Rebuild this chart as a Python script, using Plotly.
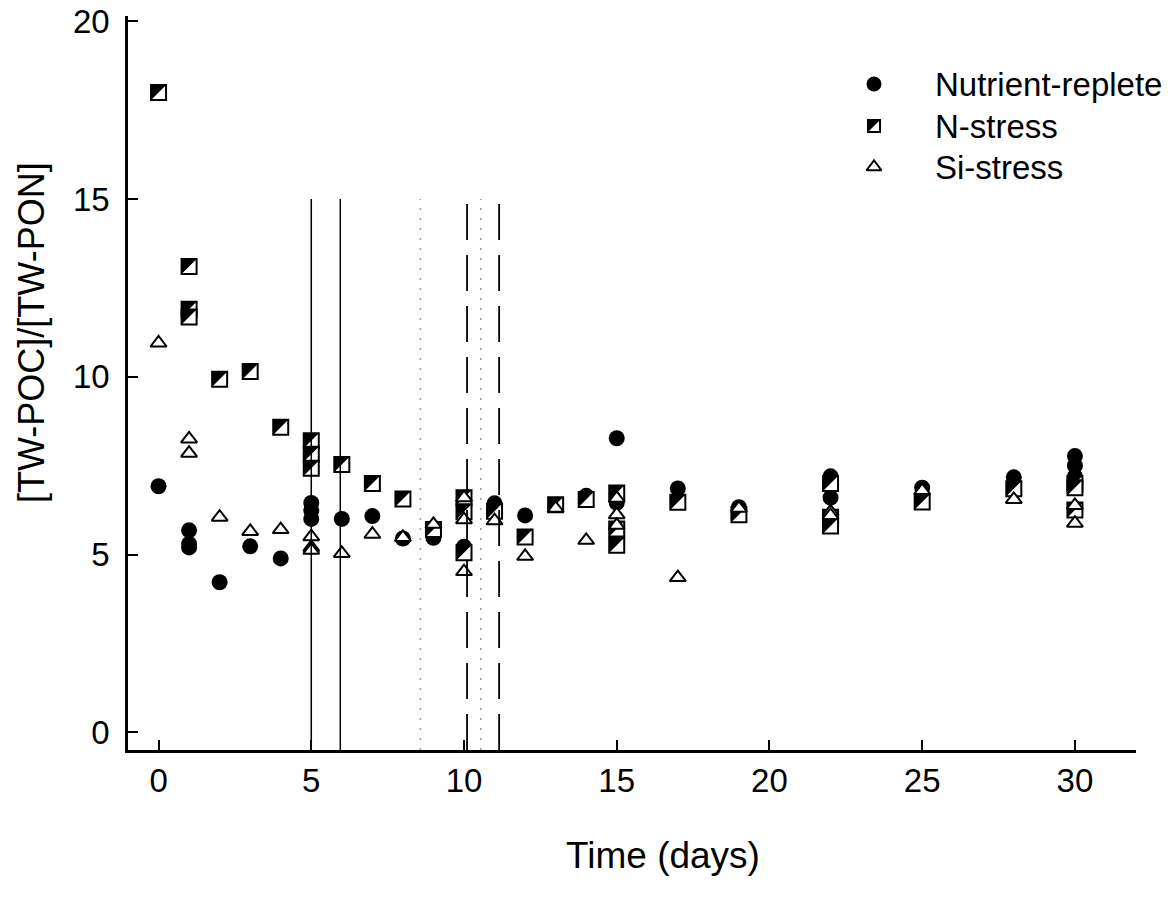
import plotly.graph_objects as go

# ---------------- data ----------------
nr_days = [0, 1, 1, 1, 2, 3, 4, 5, 5, 5, 6, 7, 8, 9, 10, 10, 11, 12, 14, 15, 15,
           17, 19, 22, 22, 22, 25, 28, 30, 30, 30]
nr_vals = [6.92, 5.68, 5.3, 5.2, 4.22, 5.23, 4.89, 6.45, 6.24, 6.0, 6.0, 6.08, 5.45, 5.47,
           6.25, 5.22, 6.44, 6.1, 6.65, 8.27, 6.45, 6.86, 6.33, 7.2, 7.05, 6.6, 6.88,
           7.17, 7.77, 7.5, 7.2]

n_days = [0, 1, 1, 1, 2, 3, 4, 5, 5, 5, 6, 7, 8, 9, 10, 10, 10, 11, 12, 13, 14, 15, 15, 15,
          17, 19, 22, 22, 22, 25, 28, 30, 30, 30]
n_vals = [18.0, 13.1, 11.9, 11.68, 9.93, 10.15, 8.58, 8.2, 7.82, 7.43, 7.53, 7.0, 6.56, 5.7,
          6.6, 6.2, 5.05, 6.22, 5.49, 6.4, 6.55, 6.73, 5.72, 5.26, 6.47, 6.12, 7.0, 6.05,
          5.8, 6.48, 6.85, 7.0, 6.88, 6.25]

si_days = [0, 1, 1, 2, 3, 4, 5, 5, 5, 6, 7, 8, 9, 10, 10, 10, 11, 12, 13, 14, 15, 15, 15,
           17, 19, 22, 22, 25, 28, 30, 30]
si_vals = [10.95, 8.25, 7.85, 6.05, 5.65, 5.7, 5.5, 5.2, 5.12, 5.03, 5.57, 5.48, 5.85,
           6.6, 5.98, 4.52, 5.95, 4.95, 6.3, 5.4, 6.58, 6.12, 5.82, 4.35, 6.3, 6.2, 6.1,
           6.8, 6.55, 6.38, 5.88]

solid_days = [5, 5.95]
dotted_days = [8.57, 10.55]
dashed_days = [10.1, 11.15]
line_top = 15

x_ticks = [0, 5, 10, 15, 20, 25, 30]
y_ticks = [0, 5, 10, 15, 20]
series_names = ["Nutrient-replete", "N-stress", "Si-stress"]

# ---------------- layout geometry ----------------
W, H = 1176, 911
ML, MR, MT, MB = 128, 40, 16, 161
XR = [-1, 32]
YR = [-0.5, 20.15]
pw = W - ML - MR
ph = H - MT - MB
px_per_x = pw / (XR[1] - XR[0])
px_per_y = ph / (YR[1] - YR[0])

FONT = "Liberation Sans, Arial, sans-serif"
SQ = 15                        # square marker side (px)
TRI_N = SQ / 0.9               # triangle-nw legs = 0.9 * size
OFF = 0.15 * TRI_N             # triangle-nw bbox centre sits this far down-right of its anchor
dx = OFF / px_per_x
dy = OFF / px_per_y


def pxx(p):   # page px -> plot fraction
    return (p - ML) / pw


def pxy(p):
    return (MT + ph - p) / ph


fig = go.Figure()

fig.add_trace(go.Scatter(
    x=nr_days, y=nr_vals, mode="markers", name=series_names[0],
    marker=dict(symbol="circle", size=16, color="black", line=dict(width=0)),
    xaxis="x", yaxis="y", showlegend=False, cliponaxis=False))

fig.add_trace(go.Scatter(
    x=n_days, y=n_vals, mode="markers", name=series_names[1],
    marker=dict(symbol="square", size=SQ, color="white", line=dict(color="black", width=2)),
    xaxis="x", yaxis="y", showlegend=False, cliponaxis=False))

# black upper-left half of the N-stress squares (axes shifted so the triangle aligns)
fig.add_trace(go.Scatter(
    x=n_days, y=n_vals, mode="markers", name=series_names[1],
    marker=dict(symbol="triangle-nw", size=TRI_N, color="black", line=dict(width=0)),
    xaxis="x2", yaxis="y2", showlegend=False, cliponaxis=False, hoverinfo="skip"))

fig.add_trace(go.Scatter(
    x=si_days, y=si_vals, mode="markers", name=series_names[2],
    marker=dict(symbol="triangle-up", size=14, color="white", line=dict(color="black", width=2)),
    xaxis="x3", yaxis="y3", showlegend=False, cliponaxis=False))

# legend markers (in plot-fraction coordinates)
leg_x = pxx(874)
leg_rows = [pxy(v) for v in (84, 126, 167)]
fig.add_trace(go.Scatter(
    x=[leg_x], y=[leg_rows[0]], mode="markers",
    marker=dict(symbol="circle", size=15, color="black"),
    xaxis="x4", yaxis="y4", showlegend=False, cliponaxis=False, hoverinfo="skip"))
fig.add_trace(go.Scatter(
    x=[leg_x], y=[leg_rows[1]], mode="markers",
    marker=dict(symbol="square", size=12, color="white", line=dict(color="black", width=2)),
    xaxis="x4", yaxis="y4", showlegend=False, cliponaxis=False, hoverinfo="skip"))
fig.add_trace(go.Scatter(
    x=[leg_x], y=[leg_rows[2]], mode="markers",
    marker=dict(symbol="triangle-up", size=13, color="white", line=dict(color="black", width=2)),
    xaxis="x4", yaxis="y4", showlegend=False, cliponaxis=False, hoverinfo="skip"))

shapes = []
for d in solid_days:
    shapes.append(dict(type="line", xref="x", yref="y", x0=d, x1=d, y0=YR[0], y1=line_top,
                       line=dict(color="black", width=1.5), layer="above"))
for d in dotted_days:
    shapes.append(dict(type="line", xref="x", yref="y", x0=d, x1=d, y0=YR[0], y1=line_top,
                       line=dict(color="#9a9a9a", width=1.5, dash="2px,8px"), layer="above"))
for d in dashed_days:
    shapes.append(dict(type="line", xref="x", yref="y", x0=d, x1=d, y0=YR[0], y1=line_top,
                       line=dict(color="black", width=1.8, dash="36px,15px"), layer="above"))
h = 6
shapes.append(dict(type="path", xref="paper", yref="paper", xsizemode="pixel", ysizemode="pixel",
                   xanchor=leg_x, yanchor=leg_rows[1],
                   path=f"M {-h} {h} L {h} {h} L {-h} {-h} Z",
                   fillcolor="black", line=dict(width=0), layer="above"))

annotations = []
for name, ry in zip(series_names, leg_rows):
    annotations.append(dict(text=name, xref="paper", yref="paper", x=pxx(933), y=ry,
                            xanchor="left", yanchor="middle", showarrow=False,
                            font=dict(family=FONT, size=33, color="black")))
annotations.append(dict(text="Time (days)", xref="paper", yref="paper", x=pxx(663), y=pxy(855),
                        xanchor="center", yanchor="middle", showarrow=False,
                        font=dict(family=FONT, size=37, color="black")))
annotations.append(dict(text="[TW-POC]/[TW-PON]", xref="paper", yref="paper", x=pxx(31), y=pxy(333),
                        xanchor="center", yanchor="middle", showarrow=False, textangle=-90,
                        font=dict(family=FONT, size=36, color="black")))

axis_common = dict(showgrid=False, zeroline=False, showline=True, linecolor="black", linewidth=2.5,
                   ticks="inside", ticklen=10, tickwidth=2, tickcolor="black",
                   ticklabeloverflow="allow",
                   tickfont=dict(family=FONT, size=33, color="black"))
hidden = dict(visible=False, showgrid=False, zeroline=False)

fig.update_layout(
    width=W, height=H,
    margin=dict(l=ML, r=MR, t=MT, b=MB, pad=0, autoexpand=False),
    paper_bgcolor="white", plot_bgcolor="white",
    showlegend=False,
    xaxis=dict(range=XR, tickvals=x_ticks, ticklabelstandoff=0, automargin=False, **axis_common),
    yaxis=dict(range=YR, tickvals=y_ticks, ticklabelstandoff=9, automargin=False, **axis_common),
    xaxis2=dict(range=[XR[0] + dx, XR[1] + dx], overlaying="x", **hidden),
    yaxis2=dict(range=[YR[0] - dy, YR[1] - dy], overlaying="y", **hidden),
    xaxis3=dict(range=XR, overlaying="x", **hidden),
    yaxis3=dict(range=YR, overlaying="y", **hidden),
    xaxis4=dict(range=[0, 1], overlaying="x", **hidden),
    yaxis4=dict(range=[0, 1], overlaying="y", **hidden),
    shapes=shapes,
    annotations=annotations,
)

fig.write_html("out.html",
               config={"displayModeBar": False},
               post_script="document.body.style.margin='0';document.body.style.overflow='hidden';")
